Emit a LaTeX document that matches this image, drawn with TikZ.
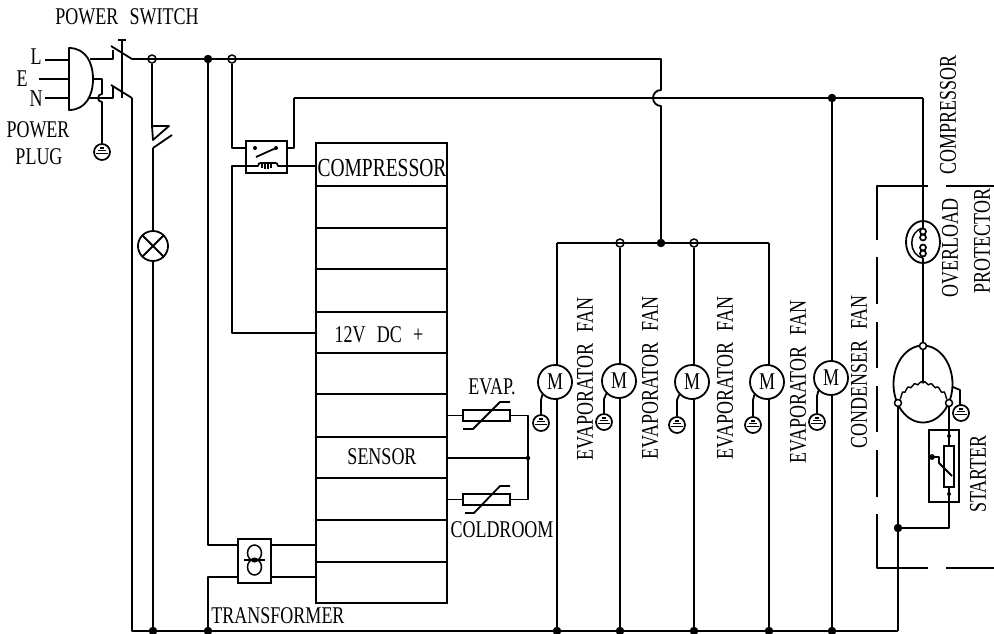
\documentclass[tikz,border=0pt]{standalone}
\usepackage{fontspec}
\setmainfont[FakeStretch=0.75,WordSpace=2.5]{Liberation Serif}
\usetikzlibrary{calc,shapes.geometric}
\tikzset{
  wire/.style={line width=1.8pt,line join=round},
  lbl/.style={inner sep=0pt,font=\fontsize{24}{24}\selectfont},
  vlbl/.style={lbl,rotate=90},
  motor/.style={circle,draw,line width=1.8pt,minimum size=34pt,inner sep=0pt,font=\fontsize{24}{24}\selectfont},
  oval/.style={ellipse,draw,line width=1.8pt,inner sep=0pt},
  gnd/.style={circle,draw,line width=1.7pt,minimum size=16pt,inner sep=0pt,
    path picture={
      \draw[line width=1.4pt] ($(path picture bounding box.center)+(-6,1.5)$) -- ++(12,0);
      \draw[line width=1.4pt] ($(path picture bounding box.center)+(-4,-1.5)$) -- ++(8,0);
      \draw[line width=1.4pt] ($(path picture bounding box.center)+(-2,-4)$) -- ++(4,0);
    }},
  openj/.style={circle,draw,line width=1.5pt,minimum size=8pt,inner sep=0pt},
  fillj/.style={circle,fill=black,draw,minimum size=8pt,inner sep=0pt},
  smallj/.style={circle,fill=black,minimum size=4.5pt,inner sep=0pt},
  boxx/.style={rectangle,draw,line width=1.8pt,inner sep=0pt},
}
\begin{document}
\begin{tikzpicture}[x=1pt,y=-1pt]
\useasboundingbox (0,0) rectangle (994,633);
% --- labels
\node[lbl] (tsw) at (127,17) {POWER SWITCH};
\node[lbl] (tl) at (36,57) {L};
\node[lbl] (te) at (22,79) {E};
\node[lbl] (tn) at (36,99) {N};
\node[lbl] (tp1) at (38,130) {POWER};
\node[lbl] (tp2) at (39,157) {PLUG};
\node[lbl,font=\fontsize{26}{26}\selectfont] (tco) at (382,168) {COMPRESSOR};
\node[lbl] (t12) at (379,335) {12V DC +};
\node[lbl] (tse) at (382,457) {SENSOR};
\node[lbl] (tev) at (492,387) {EVAP.};
\node[lbl] (tcr) at (502,530) {COLDROOM};
\node[lbl] (ttr) at (278,616) {TRANSFORMER};
\node[vlbl] (v1) at (585,379) {EVAPORATOR FAN};
\node[vlbl] (v2) at (650,378) {EVAPORATOR FAN};
\node[vlbl] (v3) at (725,378) {EVAPORATOR FAN};
\node[vlbl] (v4) at (798,382) {EVAPORATOR FAN};
\node[vlbl] (v5) at (859,372) {CONDENSER FAN};
\node[vlbl] (v6) at (948,115) {COMPRESSOR};
\node[vlbl] (v7) at (950,248) {OVERLOAD};
\node[vlbl] (v8) at (982,241) {PROTECTOR};
\node[vlbl] (v9) at (978,474) {STARTER};
% --- plug
\coordinate (pL) at (69,60);
\coordinate (pE) at (69,79);
\coordinate (pN) at (69,98);
\draw[wire] (69,48) -- (69,110) .. controls (86,110) and (93,95) .. (93,79) .. controls (93,63) and (86,48) .. (69,48) -- cycle;
\draw[wire] (45,60) -- (pL) (39,79) -- (pE) (45,98) -- (pN);
% --- power switch
\coordinate (swT) at (132,59);
\coordinate (swB) at (132,98);
\draw[wire] (90,59) -- (113,59) -- (113,50);
\draw[wire] (88,98) -- (113,98) -- (113,87);
\draw[wire] (111,46) -- (swT);
\draw[wire] (111,85) -- (swB);
\draw[wire] (122,40) -- (122,98) (118,40) -- (126,40);
\node[gnd] (gp) at (102,152) {};
\draw[wire] (93,79) -- (102,79) -- (102,94) arc[start angle=90,end angle=270,radius=4pt] -- (gp.north);
% --- rails
\node[openj] (j1) at (152,59) {};
\node[fillj] (j2) at (208,59) {};
\node[openj] (j3) at (232,59) {};
\coordinate (hopT) at (661,59);
\node[fillj] (jb) at (661,243) {};
\draw[wire] (swT) -- (hopT) -- (661,90) arc[start angle=90,end angle=270,radius=8pt] -- (jb);
\draw[wire] (swB) -- (132,631) -- (898,631);
% --- lamp branch
\coordinate (k1) at (152,126);
\coordinate (k2) at (153,148);
\draw[wire] (j1) -- (k1) -- (169,126) -- (153,140) -- (k1);
\draw[wire] (172,135) -- (k2);
\node[motor,minimum size=30pt] (lamp) at (153,246) {};
\draw[wire] (lamp.north west) -- (lamp.south east) (lamp.north east) -- (lamp.south west);
\draw[wire] (k2) -- (lamp.north);
\node[fillj] (b1) at (153,631) {};
\draw[wire] (lamp.south) -- (b1);
% --- control block
\node[boxx,minimum width=131pt,minimum height=460pt] (ctl) at (381.5,373) {};
\foreach \yy in {186,228,269,312,353,394,437,478,520,562}
  \draw[wire] (316,\yy) -- (447,\yy);
% --- relay
\node[boxx,minimum width=41pt,minimum height=32pt] (rel) at (266.5,157) {};
\coordinate (ra) at (255,148);
\coordinate (rb) at (276,148);
\fill (ra) circle (2pt) (rb) circle (2pt);
\draw[wire] (256,157) -- (rb);
\draw[wire] (j3) -- (232,148) -- (rel.west |- ra);
\coordinate (r98) at (294,98);
\draw[wire] (rel.east |- ra) -- (294,148) -- (r98);
\draw[wire] (rel.east |- 0,166) -- (316,166);
\draw[wire] (rel.west |- 0,166) -- (232,166) -- (232,333) -- (316,333);
\draw[wire] (rel.west |- 0,166) -- (258,166) .. controls (259,163) .. (261,163) -- (275,163) .. controls (277,163) .. (278,166) -- (rel.east |- 0,166);
\draw[line width=1.3pt] (262,163) -- (262,168) (265,163) -- (265,169) (268,163) -- (268,169) (271,163) -- (271,168);
% --- compressor live
\node[fillj] (j98) at (832,98) {};
\coordinate (c98) at (923,98);
\draw[wire] (r98) -- (j98) -- (c98);
% --- transformer
\node[boxx,minimum width=33pt,minimum height=44pt] (tr) at (254.5,561) {};
\draw[line width=1.5pt] (254.5,553) ellipse (7pt and 8pt) (254.5,567) ellipse (7pt and 8pt);
\draw[wire] (244,560) -- (265,560);
\fill (254.5,560) ellipse (3.5pt and 2.5pt);
\node[fillj] (b2) at (208,631) {};
\draw[wire] (j2) -- (208,545) -- (tr.west |- 0,545);
\draw[wire] (tr.west |- 0,577) -- (208,577) -- (b2);
\draw[wire] (tr.east |- 0,545) -- (316,545);
\draw[wire] (tr.east |- 0,577) -- (316,577);
% --- fan bus
\node[openj] (jf2) at (620,243) {};
\node[openj] (jf3) at (694,243) {};
\draw[wire] (557,243) -- (769,243);
\node[motor] (m1) at (555,382) {M};
\node[motor] (m2) at (619,381) {M};
\node[motor] (m3) at (692,382) {M};
\node[motor] (m4) at (767,382) {M};
\node[motor] (m5) at (831,378) {M};
\foreach \xx/\bb in {557/b3,620/b4,694/b5,769/b6,832/b7}{
  \node[fillj] (\bb) at (\xx,631) {};
}
\draw[wire] (557,243) -- (557,365) (557,399) -- (b3);
\draw[wire] (jf2) -- (620,364) (620,398) -- (b4);
\draw[wire] (jf3) -- (694,365) (694,399) -- (b5);
\draw[wire] (769,243) -- (769,365) (769,399) -- (b6);
\draw[wire] (j98) -- (832,361) (832,395) -- (b7);
% grounds on fans
\node[gnd] (g1) at (541,423) {};
\node[gnd] (g2) at (604,422) {};
\node[gnd] (g3) at (677,425) {};
\node[gnd] (g4) at (753,425) {};
\node[gnd] (g5) at (817,422) {};
\draw[wire] (g1.north) -- (541,400) -- (m1.-135);
\draw[wire] (g2.north) -- (604,399) -- (m2.-135);
\draw[wire] (g3.north) -- (677,400) -- (m3.-135);
\draw[wire] (g4.north) -- (753,400) -- (m4.-135);
\draw[wire] (g5.north) -- (817,396) -- (m5.-135);
% --- sensors
\node[boxx,minimum width=47pt,minimum height=11pt] (s1) at (486.5,415.5) {};
\node[boxx,minimum width=47pt,minimum height=11pt] (s2) at (486.5,499.5) {};
\node[smallj] (jse) at (528,458) {};
\draw[wire] (447,415.5) -- (s1.west);
\draw[wire] (447,499.5) -- (s2.west);
\draw[wire] (447,458) -- (jse);
\draw[wire] (s1.east) -- (528,415.5) -- (528,499.5) -- (s2.east);
\draw[wire] (463,429) -- (473,429) -- (500,402) -- (510,402);
\draw[wire] (465,513) -- (474,513) -- (500,486) -- (510,486);
% --- dashed enclosure
\draw[wire] (928,186) -- (877,186) -- (877,240);
\draw[wire] (946,186) -- (994,186);
\draw[wire] (928,568) -- (877,568) -- (877,514);
\draw[wire] (946,568) -- (994,568);
\draw[wire] (877,257) -- (877,304) (877,322) -- (877,368) (877,386) -- (877,432) (877,450) -- (877,497);
% --- overload
\node[oval,minimum width=34pt,minimum height=42pt] (ol) at (923,242) {};
\coordinate (oT) at (923,228);
\coordinate (oB) at (923,258);
\draw[line width=1.7pt] (923,231.5) circle (3pt) (923,237.5) circle (3pt) (923,247.5) circle (3pt) (923,253.5) circle (3pt);
\draw[line width=1.5pt] (oT) .. controls (908,231) and (908,255) .. (oB);
\draw[wire] (c98) -- (oT);
\draw[wire] (oB) -- (923,346);
% --- motor
\node[oval,minimum width=59pt,minimum height=77pt] (cm) at (923,384) {};
\node[openj,fill=white,minimum size=7pt] (tt) at (923,346) {};
\node[openj,fill=white,minimum size=7pt] (tl2) at (898,403) {};
\node[openj,fill=white,minimum size=7pt] (tr2) at (949,403) {};
\draw[wire] (tt) -- (923,383);
\coordinate (star) at (923,383);
\draw[line width=1.4pt] (star) .. controls (921,378) and (918,388) .. (916,384) .. controls (914,381) and (911,391) .. (909,387) .. controls (907,385) and (905,395) .. (904,392) .. controls (902,390) and (901,398) .. (tl2);
\draw[line width=1.4pt] (star) .. controls (925,378) and (928,388) .. (930,384) .. controls (932,381) and (935,391) .. (937,387) .. controls (939,385) and (941,395) .. (943,392) .. controls (945,390) and (946,398) .. (tr2);
% ground on compressor
\node[gnd] (gc) at (961,413) {};
\draw[wire] (953,387) -- (960,390) -- (960,405);
% --- starter
\node[boxx,minimum width=30pt,minimum height=72pt] (st) at (944,466) {};
\node[boxx,line width=1.5pt,minimum width=10pt,minimum height=41pt,fill=white] (res) at (949,466.5) {};
\node[fillj] (js) at (898,528) {};
\draw[wire] (tl2) -- (js) -- (898,631);
\draw[wire] (tr2) -- (res.north);
\draw[wire] (res.south) -- (949,528) -- (js);
\fill (949,436) circle (2pt) (949,494) circle (2pt);
\draw[line width=1.4pt] (932,457) circle (2.2pt);
\draw[wire] (st.west |- 0,457) -- (939,457) -- (939,463) -- (952,476);
\end{tikzpicture}
\end{document}
